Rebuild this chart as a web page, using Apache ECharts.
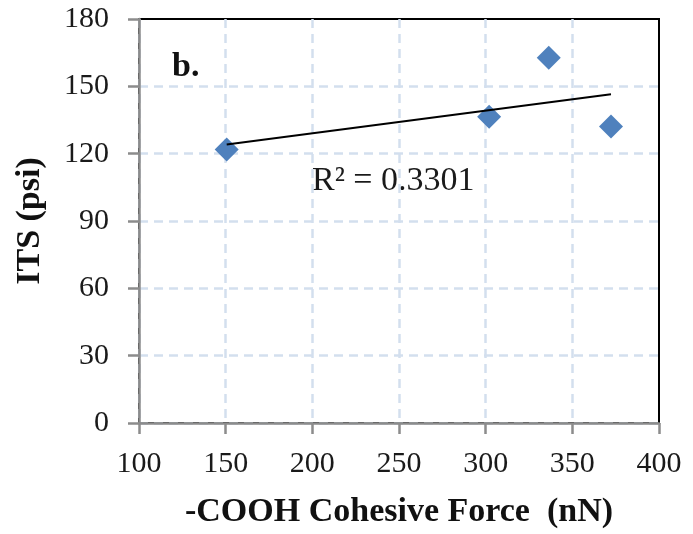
<!DOCTYPE html>
<html>
<head>
<meta charset="utf-8">
<script src="https://cdn.jsdelivr.net/npm/echarts@6/dist/echarts.min.js"></script>
<style>
  html, body { margin: 0; padding: 0; background: #fff; }
  #chart { width: 693px; height: 534px; }
</style>
</head>
<body>
<div id="chart"></div>
<script>
// cohesive force (nN) vs ITS (psi)
const forceX = [150.6, 302, 336.4, 372.3];
const itsY = [121.9, 136.5, 162.7, 132.1];
// linear trend line endpoints
const trendX = [150.6, 372.3];
const trendY = [124.1, 146.5];
const xTicks = [100, 400, 50];
const yTicks = [0, 180, 30];

const serif = '"Liberation Serif", "DejaVu Serif", serif';
const gridLine = {
  show: true,
  showMaxLine: false,
  lineStyle: { type: [9, 6], color: '#d3dfee', width: 2.5 }
};

var chart = echarts.init(document.getElementById('chart'));
chart.setOption({
  backgroundColor: '#fff',
  animation: false,
  grid: { left: 139, right: 34, top: 19, bottom: 110, show: true, borderColor: '#000', borderWidth: 2 },
  xAxis: {
    type: 'value',
    min: xTicks[0], max: xTicks[1], interval: xTicks[2],
    name: '-COOH Cohesive Force  (nN)',
    nameLocation: 'middle',
    nameGap: 72,
    nameTextStyle: { fontFamily: serif, fontWeight: 'bold', fontSize: 34, color: '#111' },
    axisLine: { lineStyle: { color: '#8c8c8c', width: 2.5 } },
    axisTick: { show: true, length: 11, lineStyle: { color: '#8c8c8c', width: 2.5 } },
    axisLabel: { fontFamily: serif, fontSize: 30, color: '#1a1a1a', margin: 26 },
    splitLine: gridLine
  },
  yAxis: {
    type: 'value',
    min: yTicks[0], max: yTicks[1], interval: yTicks[2],
    name: 'ITS (psi)',
    nameLocation: 'middle',
    nameGap: 92,
    nameTextStyle: { fontFamily: serif, fontWeight: 'bold', fontSize: 34, color: '#111' },
    axisLine: { show: true, lineStyle: { color: '#8c8c8c', width: 2.5 } },
    axisTick: { show: true, length: 11, lineStyle: { color: '#8c8c8c', width: 2.5 } },
    axisLabel: { fontFamily: serif, fontSize: 30, color: '#1a1a1a', margin: 30 },
    splitLine: gridLine
  },
  graphic: [
    { type: 'text', left: 172, top: 50, style: { text: 'b.', font: 'bold 34px ' + serif, fill: '#111' } },
    { type: 'text', left: 312, top: 164, style: { text: 'R² = 0.3301', font: '34px ' + serif, fill: '#1a1a1a' } }
  ],
  series: [
    {
      type: 'line',
      data: trendX.map((x, i) => [x, trendY[i]]),
      showSymbol: false,
      lineStyle: { color: '#000', width: 2 },
      z: 3
    },
    {
      type: 'scatter',
      data: forceX.map((x, i) => [x, itsY[i]]),
      symbol: 'diamond',
      symbolSize: [24, 24],
      itemStyle: { color: '#4f81bd', opacity: 1 },
      z: 2
    }
  ]
});
</script>
</body>
</html>
